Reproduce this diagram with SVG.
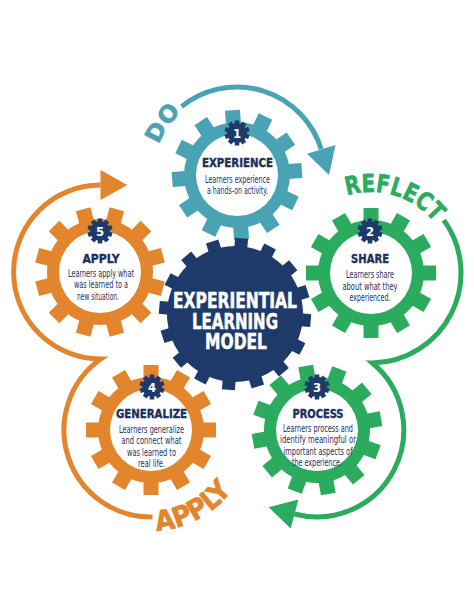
<svg xmlns="http://www.w3.org/2000/svg" xmlns:xlink="http://www.w3.org/1999/xlink" width="474" height="613" viewBox="0 0 474 613">
<style>
.title{font-family:"DejaVu Sans Condensed","DejaVu Sans",sans-serif;font-weight:bold;font-size:12.5px;fill:#1E2F5E;stroke:#1E2F5E;stroke-width:0.4px;text-anchor:middle}
.body{font-family:"DejaVu Sans Condensed","DejaVu Sans",sans-serif;font-size:10px;fill:#1E2F5E;text-anchor:middle}
.num{font-family:"DejaVu Sans Condensed","DejaVu Sans",sans-serif;font-weight:bold;font-size:13px;fill:#fff;text-anchor:middle}
.center{font-family:"DejaVu Sans Condensed","DejaVu Sans",sans-serif;font-weight:bold;font-size:20.5px;fill:#fff;stroke:#fff;stroke-width:0.5px;text-anchor:middle}
.arcword{font-family:"DejaVu Sans Condensed","DejaVu Sans",sans-serif;font-weight:bold;stroke-width:0.6px}
.arc{fill:none;stroke-width:5}
</style>
<defs>
<g id="g12">
<circle r="53"/>
<rect x="-7.5" y="-65" width="15" height="14"/>
<rect x="-7.5" y="-65" width="15" height="14" transform="rotate(30)"/>
<rect x="-7.5" y="-65" width="15" height="14" transform="rotate(60)"/>
<rect x="-7.5" y="-65" width="15" height="14" transform="rotate(90)"/>
<rect x="-7.5" y="-65" width="15" height="14" transform="rotate(120)"/>
<rect x="-7.5" y="-65" width="15" height="14" transform="rotate(150)"/>
<rect x="-7.5" y="-65" width="15" height="14" transform="rotate(180)"/>
<rect x="-7.5" y="-65" width="15" height="14" transform="rotate(210)"/>
<rect x="-7.5" y="-65" width="15" height="14" transform="rotate(240)"/>
<rect x="-7.5" y="-65" width="15" height="14" transform="rotate(270)"/>
<rect x="-7.5" y="-65" width="15" height="14" transform="rotate(300)"/>
<rect x="-7.5" y="-65" width="15" height="14" transform="rotate(330)"/>
</g>
<g id="g16">
<circle r="68"/>
<rect x="-6.5" y="-76" width="13" height="10"/>
<rect x="-6.5" y="-76" width="13" height="10" transform="rotate(22.5)"/>
<rect x="-6.5" y="-76" width="13" height="10" transform="rotate(45)"/>
<rect x="-6.5" y="-76" width="13" height="10" transform="rotate(67.5)"/>
<rect x="-6.5" y="-76" width="13" height="10" transform="rotate(90)"/>
<rect x="-6.5" y="-76" width="13" height="10" transform="rotate(112.5)"/>
<rect x="-6.5" y="-76" width="13" height="10" transform="rotate(135)"/>
<rect x="-6.5" y="-76" width="13" height="10" transform="rotate(157.5)"/>
<rect x="-6.5" y="-76" width="13" height="10" transform="rotate(180)"/>
<rect x="-6.5" y="-76" width="13" height="10" transform="rotate(202.5)"/>
<rect x="-6.5" y="-76" width="13" height="10" transform="rotate(225)"/>
<rect x="-6.5" y="-76" width="13" height="10" transform="rotate(247.5)"/>
<rect x="-6.5" y="-76" width="13" height="10" transform="rotate(270)"/>
<rect x="-6.5" y="-76" width="13" height="10" transform="rotate(292.5)"/>
<rect x="-6.5" y="-76" width="13" height="10" transform="rotate(315)"/>
<rect x="-6.5" y="-76" width="13" height="10" transform="rotate(337.5)"/>
</g>
<g id="g10" fill="#1E3A6A">
<circle r="10"/>
<rect x="-2.3" y="-12.5" width="4.6" height="4"/>
<rect x="-2.3" y="-12.5" width="4.6" height="4" transform="rotate(36)"/>
<rect x="-2.3" y="-12.5" width="4.6" height="4" transform="rotate(72)"/>
<rect x="-2.3" y="-12.5" width="4.6" height="4" transform="rotate(108)"/>
<rect x="-2.3" y="-12.5" width="4.6" height="4" transform="rotate(144)"/>
<rect x="-2.3" y="-12.5" width="4.6" height="4" transform="rotate(180)"/>
<rect x="-2.3" y="-12.5" width="4.6" height="4" transform="rotate(216)"/>
<rect x="-2.3" y="-12.5" width="4.6" height="4" transform="rotate(252)"/>
<rect x="-2.3" y="-12.5" width="4.6" height="4" transform="rotate(288)"/>
<rect x="-2.3" y="-12.5" width="4.6" height="4" transform="rotate(324)"/>
</g>
<marker id="mTeal" markerUnits="userSpaceOnUse" markerWidth="30" markerHeight="30" refX="0" refY="14" orient="auto" viewBox="0 0 26 28"><path d="M0,0 L25,14 L0,28 Z" fill="#4AA3B5"/></marker>
<marker id="mGreen" markerUnits="userSpaceOnUse" markerWidth="30" markerHeight="30" refX="0" refY="14" orient="auto" viewBox="0 0 26 28"><path d="M0,0 L25,14 L0,28 Z" fill="#2AAB5E"/></marker>
<marker id="mOrange" markerUnits="userSpaceOnUse" markerWidth="30" markerHeight="30" refX="0" refY="14" orient="auto" viewBox="0 0 26 28"><path d="M0,0 L25,14 L0,28 Z" fill="#E2852D"/></marker>
<path id="pDO" d="M153,175 A84,84 0 0 1 321,175"/>
<path id="pREF" d="M290,273 A81,81 0 0 1 452,273"/>
<path id="pAPP" d="M50,430 A101,101 0 0 0 252,430"/>
</defs>

<g id="connectors">
<path class="arc" stroke="#4AA3B5" d="M181.6,106.6 A88,88 0 0 1 321.2,149.3" marker-end="url(#mTeal)"/>
<path class="arc" stroke="#2AAB5E" d="M443.8,220.1 A90,90 0 0 1 372.4,363 A87,87 0 0 1 294.5,514" marker-end="url(#mGreen)"/>
<path class="arc" stroke="#E2852D" d="M152.5,517 A87,87 0 0 1 100.7,359 A87,87 0 1 1 100.5,185" marker-end="url(#mOrange)"/>
<text class="arcword" font-size="23" fill="#4AA3B5" stroke="#4AA3B5"><textPath href="#pDO" startOffset="51" text-anchor="middle" textLength="40" lengthAdjust="spacingAndGlyphs">DO</textPath></text>
<text class="arcword" font-size="25" fill="#2AAB5E" stroke="#2AAB5E"><textPath href="#pREF" startOffset="151" text-anchor="middle" textLength="97" lengthAdjust="spacingAndGlyphs">REFLECT</textPath></text>
<text class="arcword" font-size="28" fill="#E2852D" stroke="#E2852D"><textPath href="#pAPP" startOffset="208" text-anchor="middle" textLength="88" lengthAdjust="spacingAndGlyphs">APPLY</textPath></text>
</g>

<g id="gear1">
<use href="#g12" fill="#4AA3B5" transform="translate(237,175) rotate(-4)"/>
<circle cx="237" cy="175" r="41" fill="#fff"/>
<use href="#g10" transform="translate(237,133)"/>
<text class="num" x="237" y="137.7">1</text>
<text class="title" x="237.5" y="166.5" textLength="71" lengthAdjust="spacingAndGlyphs">EXPERIENCE</text>
<text class="body" x="237.5" y="182.5" textLength="65" lengthAdjust="spacingAndGlyphs">Learners experience</text>
<text class="body" x="237.5" y="194" textLength="61" lengthAdjust="spacingAndGlyphs">a hands-on activity.</text>
</g>

<g id="gear2">
<use href="#g12" fill="#2AAB5E" transform="translate(371,273)"/>
<circle cx="371" cy="273" r="41" fill="#fff"/>
<use href="#g10" transform="translate(370,231)"/>
<text class="num" x="370" y="235.7">2</text>
<text class="title" x="370" y="262.5" textLength="38" lengthAdjust="spacingAndGlyphs">SHARE</text>
<text class="body" x="370" y="278" textLength="48" lengthAdjust="spacingAndGlyphs">Learners share</text>
<text class="body" x="370" y="289.5" textLength="55" lengthAdjust="spacingAndGlyphs">about what they</text>
<text class="body" x="370" y="300.5" textLength="41" lengthAdjust="spacingAndGlyphs">experienced.</text>
</g>

<g id="gear3">
<use href="#g12" fill="#2AAB5E" transform="translate(317,430) rotate(-10)"/>
<circle cx="317" cy="430" r="41" fill="#fff"/>
<use href="#g10" transform="translate(317,387)"/>
<text class="num" x="317" y="391.7">3</text>
<text class="title" x="318" y="417.5" textLength="51" lengthAdjust="spacingAndGlyphs">PROCESS</text>
<text class="body" x="318" y="431.5" textLength="70" lengthAdjust="spacingAndGlyphs">Learners process and</text>
<text class="body" x="318" y="443" textLength="76" lengthAdjust="spacingAndGlyphs">identify meaningful or</text>
<text class="body" x="318" y="454.5" textLength="69" lengthAdjust="spacingAndGlyphs">important aspects of</text>
<text class="body" x="317" y="465.5" textLength="50" lengthAdjust="spacingAndGlyphs">the experience.</text>
</g>

<g id="gear4">
<use href="#g12" fill="#E2852D" transform="translate(151,430)"/>
<circle cx="151" cy="430" r="41" fill="#fff"/>
<use href="#g10" transform="translate(152,387)"/>
<text class="num" x="152" y="391.7">4</text>
<text class="title" x="151.5" y="417.5" textLength="71" lengthAdjust="spacingAndGlyphs">GENERALIZE</text>
<text class="body" x="151.5" y="432.5" textLength="65" lengthAdjust="spacingAndGlyphs">Learners generalize</text>
<text class="body" x="151.5" y="444" textLength="60" lengthAdjust="spacingAndGlyphs">and connect what</text>
<text class="body" x="151.5" y="455.5" textLength="49" lengthAdjust="spacingAndGlyphs">was learned to</text>
<text class="body" x="151.5" y="466.5" textLength="27" lengthAdjust="spacingAndGlyphs">real life.</text>
</g>

<g id="gear5">
<use href="#g12" fill="#E2852D" transform="translate(100,272) rotate(15)"/>
<circle cx="100" cy="272" r="41" fill="#fff"/>
<use href="#g10" transform="translate(100,231)"/>
<text class="num" x="100" y="235.7">5</text>
<text class="title" x="101" y="262.5" textLength="37" lengthAdjust="spacingAndGlyphs">APPLY</text>
<text class="body" x="101" y="276.5" textLength="66" lengthAdjust="spacingAndGlyphs">Learners apply what</text>
<text class="body" x="101" y="288" textLength="54" lengthAdjust="spacingAndGlyphs">was learned to a</text>
<text class="body" x="98" y="299.5" textLength="42" lengthAdjust="spacingAndGlyphs">new situation.</text>
</g>

<g id="center">
<use href="#g16" fill="#1E3A6A" transform="translate(235,314) rotate(5)"/>
<text class="center" x="235" y="308" textLength="124" lengthAdjust="spacingAndGlyphs">EXPERIENTIAL</text>
<text class="center" x="235" y="329" textLength="86" lengthAdjust="spacingAndGlyphs">LEARNING</text>
<text class="center" x="236" y="349" textLength="62" lengthAdjust="spacingAndGlyphs">MODEL</text>
</g>
</svg>
